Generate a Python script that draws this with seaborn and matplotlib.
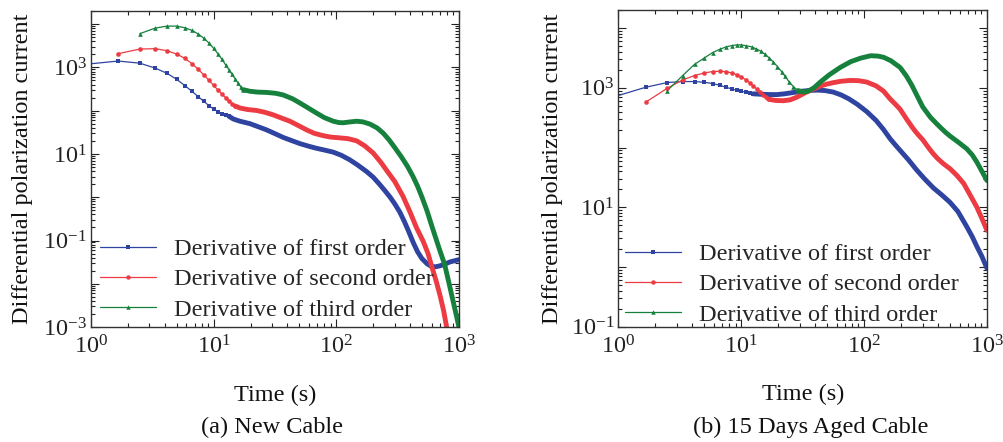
import numpy as np
import pandas as pd
import matplotlib
matplotlib.use("Agg")
import matplotlib.pyplot as plt
import seaborn as sns
from matplotlib.lines import Line2D
from matplotlib.ticker import FixedLocator, FuncFormatter, LogLocator, NullFormatter

# ---------------- data ----------------
# Panel (a) New Cable: early (sparse, marked) samples and later (dense) samples
a1_t = [0.833, 1.667, 2.5, 3.333, 4.167, 5.0, 5.833, 6.667, 7.5, 8.333, 9.167, 10.0, 10.833, 11.667, 12.5, 13.333]
a1_v = [1150, 1400, 1250, 965, 728, 528, 378, 279, 210, 164, 130, 109, 95, 85, 79, 74]
a1_tt = [14.5, 16.4, 19.8, 23.9, 27, 32, 37, 44, 50.6, 60, 69, 80, 94.5, 110, 129, 150, 177, 200, 225, 250,
         275, 300, 330, 360, 390, 424, 460, 500, 550, 598, 650, 700, 780, 845, 920, 1000]
a1_tv = [64, 57, 50, 41, 36, 29, 24, 20, 17.3, 15, 13.5, 12.3, 11, 9.3, 7.3, 5.5, 3.9, 2.9, 2.0, 1.4,
         1.0, 0.7, 0.45, 0.27, 0.16, 0.09, 0.055, 0.038, 0.029, 0.025, 0.0248, 0.026, 0.029, 0.032, 0.034, 0.036]

a2_t = [1.667, 2.5, 3.333, 4.167, 5.0, 5.833, 6.667, 7.5, 8.333, 9.167, 10.0, 10.833, 11.667, 12.5, 13.333, 14.167, 15.0]
a2_v = [2070, 2650, 2700, 2430, 2030, 1615, 1215, 900, 665, 500, 385, 300, 243, 200, 167, 145, 128]
a2_tt = [16.4, 19, 22.4, 26, 30.6, 36, 41.9, 50, 57.3, 66, 78, 90, 107, 125, 147, 170, 200, 230, 260, 300,
         350, 400, 450, 512, 560, 598, 650, 700, 750, 794, 850]
a2_tv = [115, 106, 101, 92, 80, 67, 57, 44, 36, 30, 26.5, 24.5, 23.5, 22.5, 20, 15.5, 10.5, 6.5, 4.0, 2.3,
         1.05, 0.45, 0.2, 0.095, 0.05, 0.026, 0.012, 0.0055, 0.0024, 0.001, 0.0004]

a3_t = [2.5, 3.333, 4.167, 5.0, 5.833, 6.667, 7.5, 8.333, 9.167, 10.0, 10.833, 11.667, 12.5, 13.333, 14.167, 15.0, 15.833, 16.667, 17.5]
a3_v = [5990, 8070, 8970, 8970, 8220, 7140, 5890, 4680, 3650, 2745, 2070, 1555, 1150, 883, 690, 537, 435, 351, 305]
a3_tt = [19.8, 23, 27, 32, 37, 44, 50.6, 60, 69, 80, 94.5, 105, 114, 130, 147, 165, 188, 215, 242, 270,
         300, 340, 380, 420, 460, 500, 550, 600, 650, 700, 765, 820, 880, 940, 1000]
a3_tv = [280, 268, 264, 252, 230, 188, 150, 112, 88, 69, 57, 53, 52.5, 55, 57, 55, 49, 40, 30, 21,
         14, 8.5, 5.2, 3.1, 1.8, 1.0, 0.48, 0.22, 0.11, 0.058, 0.028, 0.012, 0.005, 0.0022, 0.001]

# Panel (b) 15 Days Aged Cable
b1_t = [0.833, 1.667, 2.5, 3.333, 4.167, 5.0, 5.833, 6.667, 7.5, 8.333, 9.167, 10.0, 10.833, 11.667, 12.5]
b1_v = [665, 1023, 1227, 1274, 1274, 1241, 1180, 1106, 1023, 962, 912, 877, 845, 812, 794]
b1_tt = [14.5, 16.6, 19.5, 22.6, 26, 31, 36, 42, 48, 56, 65, 75, 88, 105, 125, 144, 163, 180, 196, 230,
         268, 310, 367, 430, 502, 580, 686, 760, 828, 910, 1000]
b1_tv = [780, 773, 770, 795, 830, 877, 905, 915, 900, 850, 760, 655, 530, 400, 285, 200, 140, 110, 90, 62,
         42, 30, 21, 16, 12, 8.5, 4.7, 3.2, 2.2, 1.5, 0.95]

b2_t = [1.667, 2.5, 3.333, 4.167, 5.0, 5.833, 6.667, 7.5, 8.333, 9.167, 10.0, 10.833, 11.667, 12.5, 13.333, 14.167, 15.0, 15.833, 16.667]
b2_v = [575, 986, 1361, 1607, 1778, 1875, 1896, 1875, 1778, 1668, 1528, 1377, 1227, 1079, 962, 857, 773, 697, 645]
b2_tt = [19, 22, 25, 28, 31, 34, 39, 44, 50, 56, 65, 77, 90, 105, 125, 144, 163, 180, 196, 224,
         250, 268, 300, 340, 367, 395, 440, 502, 570, 647, 730, 828, 910, 1000]
b2_tv = [615, 608, 630, 690, 770, 850, 960, 1070, 1160, 1220, 1290, 1330, 1320, 1250, 1080, 880, 650, 530, 440, 290,
         210, 175, 135, 95, 78, 66, 54, 44, 34, 25, 16, 10, 6.5, 4.1]

b3_t = [2.5, 3.333, 4.167, 5.0, 5.833, 6.667, 7.5, 8.333, 9.167, 10.0, 10.833, 12.2, 13.3, 14.5, 15.6, 16.9, 18.2, 19.7, 21.3, 22.8, 24.4, 26.5, 29]
b3_v = [901, 1607, 2478, 3162, 3890, 4414, 4842, 5094, 5236, 5236, 5094, 4842, 4470, 4090, 3650, 3162, 2720, 2270, 1875, 1550, 1274, 1052, 900]
b3_tt = [32, 35, 39, 44, 52, 64, 78, 94, 113, 130, 144, 165, 180, 196, 220, 245, 268, 300, 347, 390,
         420, 460, 502, 550, 600, 686, 760, 828, 910, 1000]
b3_tv = [850, 880, 1000, 1250, 1650, 2200, 2750, 3150, 3450, 3400, 3250, 2850, 2500, 2200, 1600, 1100, 760, 480, 320, 250,
         215, 180, 155, 135, 118, 95, 75, 57, 40, 28]

labels = ["Derivative of first order", "Derivative of second order", "Derivative of third order"]
colors = ["#2f44a0", "#ec3b42", "#16803d"]
markers = ["s", "o", "^"]

# ---------------- style ----------------
sns.set_theme(style="ticks")
plt.rcParams["font.family"] = ["Liberation Serif", "DejaVu Serif"]
plt.rcParams["mathtext.fontset"] = "custom"
plt.rcParams["mathtext.rm"] = "Liberation Serif"
plt.rcParams["mathtext.it"] = "Liberation Serif:italic"
FS = 17.5

fig = plt.figure(figsize=(10.04, 4.42), dpi=100)
axa = fig.add_axes([0.0906, 0.260, 0.3665, 0.715])
axb = fig.add_axes([0.616, 0.261, 0.367, 0.716])

def fmt(v, pos):
    e = int(round(np.log10(v)))
    return r"$\mathregular{10^{%d}}$" % e

def yfmt(v, pos):
    e = int(round(np.log10(v)))
    if e % 2 == 0:
        return ""
    return r"$\mathregular{10^{%d}}$" % e

def draw(ax, series, ylim, ymaj):
    for (t, v, tt, tv), c, m in zip(series, colors, markers):
        thin = pd.DataFrame({"t": list(t) + [tt[0]], "v": list(v) + [tv[0]]})
        thick = pd.DataFrame({"t": [t[-1]] + list(tt), "v": [v[-1]] + list(tv)})
        sns.lineplot(data=thick, x="t", y="v", ax=ax, color=c, lw=3.5, sort=False,
                     estimator=None, solid_capstyle="round", solid_joinstyle="round")
        sns.lineplot(data=thin, x="t", y="v", ax=ax, color=c, lw=0.9, sort=False,
                     estimator=None)
        sns.scatterplot(data=pd.DataFrame({"t": t, "v": v}), x="t", y="v", ax=ax,
                        color=c, marker=m, s=11, linewidth=0, zorder=5)
    ax.set_xscale("log")
    ax.set_yscale("log")
    ax.set_xlim(1, 1000)
    ax.set_ylim(*ylim)
    ax.xaxis.set_major_locator(FixedLocator([1, 10, 100, 1000]))
    ax.xaxis.set_major_formatter(FuncFormatter(fmt))
    ax.xaxis.set_minor_locator(LogLocator(base=10, subs=np.arange(2, 10)))
    ax.xaxis.set_minor_formatter(NullFormatter())
    ax.yaxis.set_major_locator(FixedLocator(ymaj))
    ax.yaxis.set_major_formatter(FuncFormatter(yfmt))
    ax.yaxis.set_minor_locator(LogLocator(base=10, subs=np.arange(2, 10), numticks=20))
    ax.yaxis.set_minor_formatter(NullFormatter())
    ax.tick_params(which="both", direction="in", top=True, right=True, labelsize=FS,
                   colors="#222222", width=0.8)
    ax.tick_params(which="major", length=6)
    ax.tick_params(which="minor", length=3)
    ax.tick_params(axis="x", pad=6)
    ax.tick_params(axis="y", pad=3)
    for s in ax.spines.values():
        s.set_color("#333333")
        s.set_linewidth(1.0)
        s.set_visible(True)
    ax.set_xlabel("Time (s)", fontsize=FS, color="#111111")
    ax.set_ylabel("Differential polarization current", fontsize=FS, color="#111111")
    ax.xaxis.label.set_va("center")
    ax.yaxis.label.set_va("center")
    ax.xaxis.set_label_coords(0.5, -0.215)
    handles = [Line2D([0], [0], color=c, lw=0.9, marker=m, markersize=3.2, markeredgewidth=0)
               for c, m in zip(colors, markers)]
    return handles

ha = draw(axa, [(a1_t, a1_v, a1_tt, a1_tv), (a2_t, a2_v, a2_tt, a2_tv), (a3_t, a3_v, a3_tt, a3_tv)],
          (1e-3, 2e4), [1e-3, 1e-2, 1e-1, 1, 10, 100, 1e3, 1e4])
hb = draw(axb, [(b1_t, b1_v, b1_tt, b1_tv), (b2_t, b2_v, b2_tt, b2_tv), (b3_t, b3_v, b3_tt, b3_tv)],
          (1e-1, 2e4), [1e-1, 1, 10, 100, 1e3, 1e4])
axa.yaxis.set_label_coords(-0.185, 0.5)
axb.yaxis.set_label_coords(-0.180, 0.5)

for ax, h, anchor in [(axa, ha, (0.024, 0.02)), (axb, hb, (0.018, 0.003))]:
    ax.legend(h, labels, loc="lower left", bbox_to_anchor=anchor, frameon=False,
              fontsize=FS, handlelength=2.3, handletextpad=0.75, labelspacing=0.34,
              borderpad=0.0, borderaxespad=0.0)

fig.text(0.271, 0.032, "(a) New Cable", ha="center", va="center", fontsize=FS, color="#111111")
fig.text(0.807, 0.032, "(b) 15 Days Aged Cable", ha="center", va="center", fontsize=FS, color="#111111")

fig.savefig("out.png", dpi=100)
